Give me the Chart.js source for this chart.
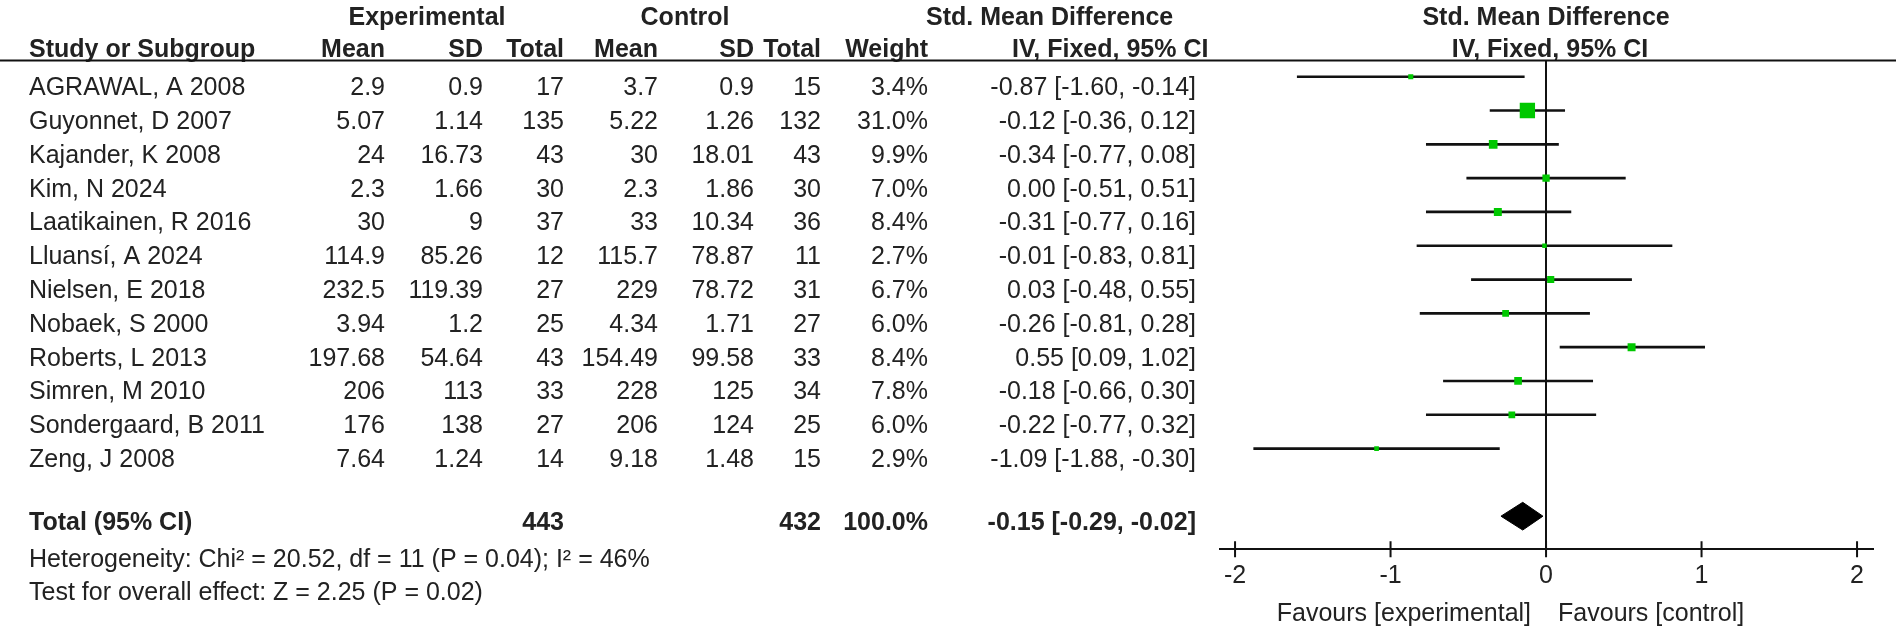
<!DOCTYPE html>
<html>
<head>
<meta charset="utf-8">
<script src="https://cdn.jsdelivr.net/npm/chart.js@4.4.1/dist/chart.umd.min.js"></script>
<style>
  html, body { margin: 0; padding: 0; background: #fff; }
  canvas { display: block; }
</style>
</head>
<body>
<canvas id="forest" width="1902" height="626"></canvas>
<script>
// values
const studies = ['AGRAWAL, A 2008', 'Guyonnet, D 2007', 'Kajander, K 2008', 'Kim, N 2024',
  'Laatikainen, R 2016', 'Lluansí, A 2024', 'Nielsen, E 2018', 'Nobaek, S 2000',
  'Roberts, L 2013', 'Simren, M 2010', 'Sondergaard, B 2011', 'Zeng, J 2008'];
const expMean = [2.9, 5.07, 24, 2.3, 30, 114.9, 232.5, 3.94, 197.68, 206, 176, 7.64];
const expSD = [0.9, 1.14, 16.73, 1.66, 9, 85.26, 119.39, 1.2, 54.64, 113, 138, 1.24];
const expN = [17, 135, 43, 30, 37, 12, 27, 25, 43, 33, 27, 14];
const ctlMean = [3.7, 5.22, 30, 2.3, 33, 115.7, 229, 4.34, 154.49, 228, 206, 9.18];
const ctlSD = [0.9, 1.26, 18.01, 1.86, 10.34, 78.87, 78.72, 1.71, 99.58, 125, 124, 1.48];
const ctlN = [15, 132, 43, 30, 36, 11, 31, 27, 33, 34, 25, 15];
const weight = [3.4, 31.0, 9.9, 7.0, 8.4, 2.7, 6.7, 6.0, 8.4, 7.8, 6.0, 2.9];
const smd = [-0.87, -0.12, -0.34, 0.00, -0.31, -0.01, 0.03, -0.26, 0.55, -0.18, -0.22, -1.09];
const ciLow = [-1.60, -0.36, -0.77, -0.51, -0.77, -0.83, -0.48, -0.81, 0.09, -0.66, -0.77, -1.88];
const ciHigh = [-0.14, 0.12, 0.08, 0.51, 0.16, 0.81, 0.55, 0.28, 1.02, 0.30, 0.32, -0.30];

const totalExpN = 443;
const totalCtlN = 432;
const totalWeight = 100.0;
const totalSmd = -0.15;
const totalLow = -0.29;
const totalHigh = -0.02;
const heterogeneity = 'Heterogeneity: Chi² = 20.52, df = 11 (P = 0.04); I² = 46%';
const overallEffect = 'Test for overall effect: Z = 2.25 (P = 0.02)';

const xTicks = [-2, -1, 0, 1, 2];
const favoursLeft = 'Favours [experimental]';
const favoursRight = 'Favours [control]';

const FONT = '"Liberation Sans", Arial, sans-serif';
const INK = '#222';
const LINE = '#111';
const GREEN = '#00c800';
const TOTAL_ROW = 13;

function fmt2(v) {
    return v.toFixed(2);
}

function ciText(est, lo, hi) {
    return fmt2(est) + ' [' + fmt2(lo) + ', ' + fmt2(hi) + ']';
}

function squareRadius(c) {
    // square area follows the study weight
    return 2.75 * Math.sqrt(weight[c.dataIndex]) / Math.SQRT2;
}

// table text, header rule and axis tick marks, placed with the chart's scales
const tablePlugin = {
    id: 'table',
    afterDraw(chart) {
        const ctx = chart.ctx;
        const xs = chart.scales.x;
        const ys = chart.scales.y;
        const base = r => ys.getPixelForValue(r) + 18.4;
        const zero = xs.getPixelForValue(0);

        function txt(s, px, py, align, bold) {
            ctx.font = (bold ? 'bold ' : '') + '25px ' + FONT;
            ctx.textAlign = align;
            ctx.fillText(s, px, py);
        }

        ctx.save();
        ctx.fillStyle = INK;
        ctx.textBaseline = 'alphabetic';

        // header
        const h1 = base(-2.07);
        const h2 = base(-1.12);
        txt('Experimental', 427, h1, 'center', true);
        txt('Control', 685, h1, 'center', true);
        txt('Std. Mean Difference', 926, h1, 'left', true);
        txt('Std. Mean Difference', zero, h1, 'center', true);
        txt('Study or Subgroup', 29, h2, 'left', true);
        txt('Mean', 385, h2, 'right', true);
        txt('SD', 483, h2, 'right', true);
        txt('Total', 564, h2, 'right', true);
        txt('Mean', 658, h2, 'right', true);
        txt('SD', 754, h2, 'right', true);
        txt('Total', 821, h2, 'right', true);
        txt('Weight', 928, h2, 'right', true);
        txt('IV, Fixed, 95% CI', 1012, h2, 'left', true);
        txt('IV, Fixed, 95% CI', zero + 4, h2, 'center', true);

        // study rows
        studies.forEach((s, i) => {
            const py = base(i);
            txt(s, 29, py, 'left', false);
            txt(String(expMean[i]), 385, py, 'right', false);
            txt(String(expSD[i]), 483, py, 'right', false);
            txt(String(expN[i]), 564, py, 'right', false);
            txt(String(ctlMean[i]), 658, py, 'right', false);
            txt(String(ctlSD[i]), 754, py, 'right', false);
            txt(String(ctlN[i]), 821, py, 'right', false);
            txt(weight[i].toFixed(1) + '%', 928, py, 'right', false);
            txt(ciText(smd[i], ciLow[i], ciHigh[i]), 1196, py, 'right', false);
        });

        // total and footer
        const tp = base(12.86);
        txt('Total (95% CI)', 29, tp, 'left', true);
        txt(String(totalExpN), 564, tp, 'right', true);
        txt(String(totalCtlN), 821, tp, 'right', true);
        txt(totalWeight.toFixed(1) + '%', 928, tp, 'right', true);
        txt(ciText(totalSmd, totalLow, totalHigh), 1196, tp, 'right', true);
        txt(heterogeneity, 29, base(13.96), 'left', false);
        txt(overallEffect, 29, base(14.94), 'left', false);

        // favours labels under the axis
        const fy = chart.chartArea.bottom + 72;
        txt(favoursLeft, zero - 15, fy, 'right', false);
        txt(favoursRight, zero + 12, fy, 'left', false);

        // rule under the column headings
        ctx.strokeStyle = LINE;
        ctx.lineWidth = 2;
        ctx.beginPath();
        ctx.moveTo(0, chart.chartArea.top);
        ctx.lineTo(1896, chart.chartArea.top);
        ctx.stroke();

        // tick marks crossing the axis line
        const ay = chart.chartArea.bottom;
        ctx.beginPath();
        xTicks.forEach(v => {
            const px = xs.getPixelForValue(v);
            ctx.moveTo(px, ay - 8);
            ctx.lineTo(px, ay + 8);
        });
        ctx.stroke();
        ctx.restore();
    }
};

const config = {
    type: 'scatter',
    data: {
        datasets: [{
            type: 'scatter',
            data: studies.map((s, i) => ({ x: smd[i], y: i })),
            pointStyle: 'rect',
            pointRadius: squareRadius,
            pointHoverRadius: squareRadius,
            backgroundColor: GREEN,
            borderWidth: 0,
            order: 0
        }, {
            type: 'line',
            data: [
                { x: totalLow, y: TOTAL_ROW },
                { x: totalSmd, y: TOTAL_ROW - 0.41 },
                { x: totalHigh, y: TOTAL_ROW },
                { x: totalSmd, y: TOTAL_ROW + 0.41 },
                { x: totalLow, y: TOTAL_ROW }
            ],
            borderColor: '#000',
            backgroundColor: '#000',
            borderWidth: 1,
            pointRadius: 0,
            tension: 0,
            fill: 'shape',
            order: 1
        }, {
            type: 'bar',
            indexAxis: 'y',
            data: studies.map((s, i) => ({ x: [ciLow[i], ciHigh[i]], y: i })),
            backgroundColor: LINE,
            borderWidth: 0,
            barThickness: 2,
            grouped: false,
            order: 2
        }]
    },
    options: {
        responsive: false,
        animation: false,
        events: [],
        layout: {
            padding: { left: 1219.5, right: 29.4, top: 60.5, bottom: 0 }
        },
        plugins: {
            legend: { display: false },
            tooltip: { enabled: false }
        },
        scales: {
            x: {
                type: 'linear',
                position: 'bottom',
                min: -2.1,
                max: 2.1,
                offset: false,
                afterBuildTicks: scale => {
                    scale.ticks = xTicks.map(v => ({ value: v }));
                },
                afterFit: scale => {
                    scale.height = 626 - 549.3;
                },
                grid: {
                    offset: false,
                    drawTicks: false,
                    lineWidth: 2,
                    color: c => (c.tick && c.tick.value === 0 ? LINE : 'rgba(0,0,0,0)')
                },
                border: { display: true, color: LINE, width: 2 },
                ticks: {
                    padding: 12,
                    color: INK,
                    font: { family: FONT, size: 25 },
                    callback: v => String(v)
                }
            },
            y: {
                type: 'linear',
                display: false,
                reverse: true,
                offset: false,
                grid: { offset: false },
                min: -0.48,
                max: 13.98
            }
        }
    },
    plugins: [tablePlugin]
};

new Chart(document.getElementById('forest').getContext('2d'), config);
</script>
</body>
</html>
